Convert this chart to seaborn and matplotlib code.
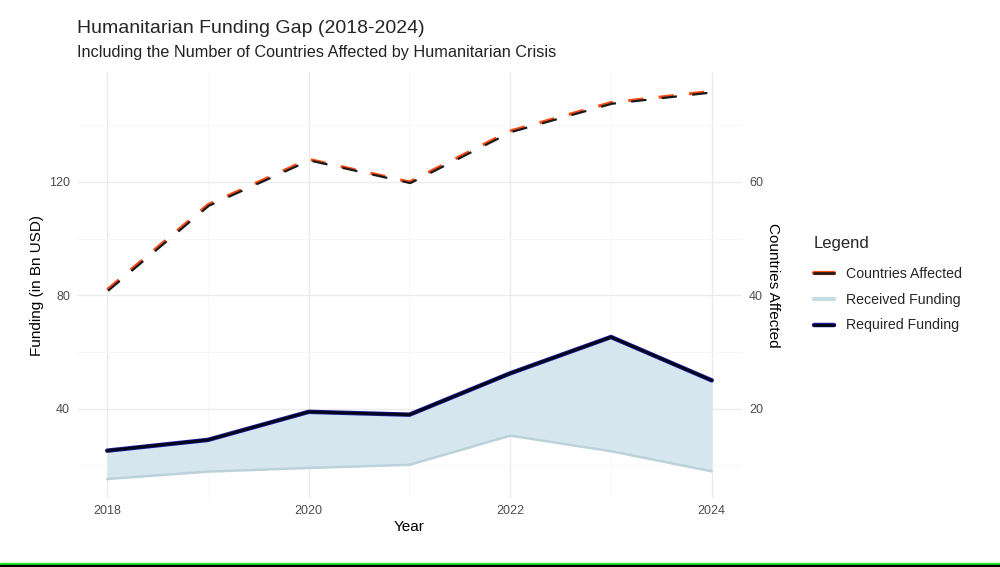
import numpy as np
import pandas as pd
import matplotlib
matplotlib.use("Agg")
import matplotlib.pyplot as plt
import matplotlib.transforms as mtransforms
from matplotlib.lines import Line2D
from matplotlib.legend_handler import HandlerTuple
import seaborn as sns

# data
years = [2018, 2019, 2020, 2021, 2022, 2023, 2024]
required_funding = [25.2, 29.0, 38.9, 37.9, 52.5, 65.3, 50.0]
received_funding = [15.2, 17.8, 19.1, 20.2, 30.5, 25.0, 17.9]
countries_affected = [41, 56, 64, 60, 69, 74, 76]

df = pd.DataFrame({"year": years, "required": required_funding,
                   "received": received_funding, "countries": countries_affected})
df["countries_scaled"] = df["countries"] * 2  # secondary axis = funding / 2

sns.set_theme(style="whitegrid")
plt.rcParams["font.family"] = ["Liberation Sans", "DejaVu Sans"]

fig = plt.figure(figsize=(10, 5.67), dpi=100)
ax = fig.add_axes([0.077, 0.1217, 0.665, 0.7513])

ax.fill_between(df["year"], df["received"], df["required"], color="#d5e6ef", lw=0, zorder=1)
sns.lineplot(data=df, x="year", y="received", ax=ax, color="#bcd2da", lw=1.8, zorder=2)
sns.lineplot(data=df, x="year", y="required", ax=ax, color="#1a1aa0", lw=3.2, zorder=3)
sns.lineplot(data=df, x="year", y="required", ax=ax, color="#050518", lw=2.0, zorder=4)

# dashed line: orange underneath, black shifted slightly
sns.lineplot(data=df, x="year", y="countries_scaled", ax=ax, color="#ff4a12", lw=2.2,
             dashes=False, zorder=5).lines[-1].set_dashes((5, 5))
shift = mtransforms.offset_copy(ax.transData, fig=fig, x=0.6, y=-0.8, units="points")
ln = ax.plot(df["year"], df["countries_scaled"], color="#1a1a1a", lw=1.6, zorder=6,
             transform=shift)[0]
ln.set_dashes((6.9, 6.9))

ax.set_xlim(2017.7, 2024.3)
ax.set_ylim(8.5, 158.8)
ax.set_xticks([2018, 2020, 2022, 2024])
ax.set_yticks([40, 80, 120])
ax.set_xticks([2019, 2021, 2023], minor=True)
ax.set_yticks([20, 60, 100, 140], minor=True)
ax.grid(which="major", color="#ebebeb", lw=1.0)
ax.grid(which="minor", color="#f6f6f6", lw=0.6)
for s in ax.spines.values():
    s.set_visible(False)
ax.tick_params(which="both", length=0, labelsize=9, labelcolor="#4d4d4d", pad=5)
ax.set_xlabel("Year", fontsize=11, color="black", labelpad=2)
ax.set_ylabel("Funding (in Bn USD)", fontsize=11, color="black", labelpad=4)

ax2 = ax.twinx()
ax2.set_ylim(8.5 / 2, 158.8 / 2)
ax2.set_yticks([20, 40, 60])
ax2.grid(False)
for s in ax2.spines.values():
    s.set_visible(False)
ax2.tick_params(length=0, labelsize=9, labelcolor="#4d4d4d", pad=5)
ax2.set_ylabel("Countries Affected", fontsize=11, color="black", rotation=-90, labelpad=12)

h_c = (Line2D([], [], color="#ff4a12", lw=3), Line2D([], [], color="#2a1a1a", lw=2, ls="-"))
h_rec = Line2D([], [], color="#c5dde6", lw=3)
h_req = (Line2D([], [], color="#1a1aa0", lw=3.2), Line2D([], [], color="#050518", lw=2))
leg = fig.legend([h_c, h_rec, h_req], ["Countries Affected", "Received Funding", "Required Funding"],
                 handler_map={tuple: HandlerTuple(ndivide=1, pad=0)},
                 loc="upper left", bbox_to_anchor=(0.801, 0.607), frameon=False,
                 title="Legend", fontsize=10.2, title_fontsize=12, handlelength=1.4,
                 handletextpad=0.9, labelspacing=0.82, alignment="left")
leg._legend_box.sep = 12

fig.text(0.077, 0.95, "Humanitarian Funding Gap (2018-2024)", fontsize=14, va="center")
fig.text(0.077, 0.907, "Including the Number of Countries Affected by Humanitarian Crisis",
         fontsize=11.7, va="center", color="#222222")

# green strip along the bottom edge of the reference screenshot
fig.add_artist(plt.Rectangle((0, 0.0035), 1, 0.0035, color="#22ee22", transform=fig.transFigure))
fig.add_artist(plt.Rectangle((0, 0), 1, 0.0035, color="black", transform=fig.transFigure))

fig.savefig("out.png", dpi=100, facecolor="white")
